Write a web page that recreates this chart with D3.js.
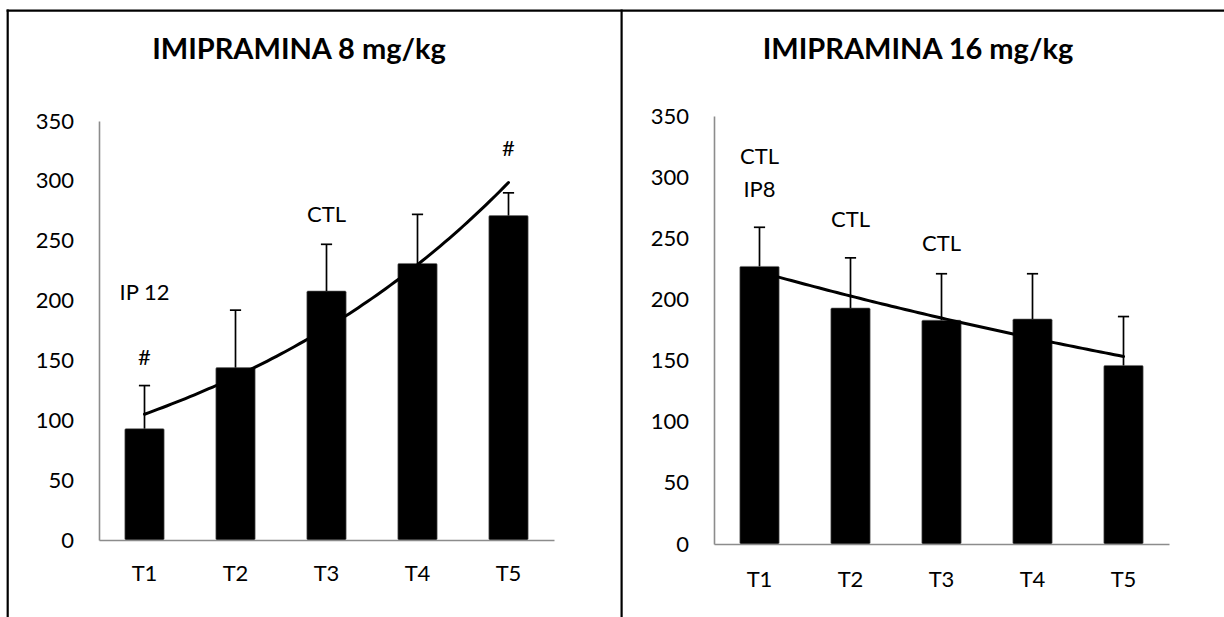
<!DOCTYPE html>
<html>
<head>
<meta charset="utf-8">
<script src="https://cdn.jsdelivr.net/npm/d3@7"></script>
<style>
  body { margin: 0; background: #fff; }
  svg { display: block; }
  text { font-family: Lato, "Open Sans", sans-serif; fill: #000; }
</style>
</head>
<body>
<svg id="chart" width="1224" height="617"></svg>
<script>
// Sessions and axis ticks shared by both panels
const categories = ["T1", "T2", "T3", "T4", "T5"];
const yTicks = [0, 50, 100, 150, 200, 250, 300, 350];

// Imipramine 8 mg/kg: means and upper error (SEM)
const means8 = [93, 144, 208, 231, 271];
const errors8 = [36, 48, 39, 41, 19];
const notes8 = [
  { cat: "T1", text: "IP 12", at: 207 },
  { cat: "T1", text: "#", at: 153 },
  { cat: "T3", text: "CTL", at: 272 },
  { cat: "T5", text: "#", at: 327 }
];

// Imipramine 16 mg/kg: means and upper error (SEM)
const means16 = [227, 193, 183, 184, 146];
const errors16 = [32, 41, 38, 37, 40];
const notes16 = [
  { cat: "T1", text: "CTL", at: 317 },
  { cat: "T1", text: "IP8", at: 290 },
  { cat: "T2", text: "CTL", at: 266 },
  { cat: "T3", text: "CTL", at: 246 }
];

const titles = ["IMIPRAMINA 8 mg/kg", "IMIPRAMINA 16 mg/kg"];

const svg = d3.select("#chart");
svg.append("rect").attr("width", 1224).attr("height", 617).attr("fill", "#fff");

// Table-style frame around the two panels
const frame = svg.append("g").attr("stroke", "#000").attr("stroke-width", 2.2).attr("fill", "none");
frame.append("line").attr("x1", 6.6).attr("x2", 1224).attr("y1", 10.6).attr("y2", 10.6);
frame.append("line").attr("x1", 7.7).attr("x2", 7.7).attr("y1", 9.5).attr("y2", 617);
frame.append("line").attr("x1", 621.6).attr("x2", 621.6).attr("y1", 9.5).attr("y2", 617);

// Least-squares exponential trend y = a*e^(b*x), x = 1..n
function expFit(values) {
  const xs = values.map((_, i) => i + 1);
  const ls = values.map(v => Math.log(v));
  const mx = d3.mean(xs), ml = d3.mean(ls);
  const b = d3.sum(xs, (x, i) => (x - mx) * (ls[i] - ml)) / d3.sum(xs, x => (x - mx) ** 2);
  const a = Math.exp(ml - b * mx);
  return x => a * Math.exp(b * x);
}

const panels = [
  { title: titles[0], means: means8, errors: errors8, notes: notes8,
    x0: 99, x1: 554, yTop: 121, yBottom: 540, titleX: 299, titleY: 59, catPad: 25 },
  { title: titles[1], means: means16, errors: errors16, notes: notes16,
    x0: 714, x1: 1169, yTop: 116, yBottom: 544, titleX: 918, titleY: 59, catPad: 27 }
];

panels.forEach(p => {
  const g = svg.append("g");

  const x = d3.scaleBand().domain(categories).range([p.x0, p.x1])
    .paddingInner(0.568).paddingOuter(0.284);
  const y = d3.scaleLinear().domain([0, 350]).range([p.yBottom, p.yTop]);

  g.append("text")
    .attr("x", p.titleX).attr("y", p.titleY)
    .attr("text-anchor", "middle")
    .style("font-weight", "bold").style("font-size", "29px")
    .text(p.title);

  // Y axis
  const yAxis = g.append("g").attr("transform", `translate(${p.x0},0)`)
    .call(d3.axisLeft(y).tickValues(yTicks).tickSize(0).tickSizeOuter(0).tickPadding(25));
  yAxis.select(".domain").attr("stroke", "#8c8c8c").attr("stroke-width", 1.6);
  yAxis.selectAll("text").style("font-size", "22px").style("font-family", "Lato, sans-serif").attr("fill", "#000");

  const rows = categories.map((c, i) => ({ cat: c, mean: p.means[i], err: p.errors[i] }));

  // Bars
  g.append("g").selectAll("rect").data(rows).join("rect")
    .attr("x", d => x(d.cat))
    .attr("width", x.bandwidth())
    .attr("y", d => y(d.mean))
    .attr("height", d => y(0) - y(d.mean))
    .attr("rx", 1.2)
    .attr("fill", "#000")
    .attr("stroke", "#6e6e6e").attr("stroke-width", 0.6);

  // Upper error bars with caps
  const eb = g.append("g").attr("stroke", "#000").attr("stroke-width", 1.7);
  eb.selectAll("line.v").data(rows).join("line").attr("class", "v")
    .attr("x1", d => x(d.cat) + x.bandwidth() / 2)
    .attr("x2", d => x(d.cat) + x.bandwidth() / 2)
    .attr("y1", d => y(d.mean))
    .attr("y2", d => y(d.mean + d.err));
  eb.selectAll("line.cap").data(rows).join("line").attr("class", "cap")
    .attr("x1", d => x(d.cat) + x.bandwidth() / 2 - 5.6)
    .attr("x2", d => x(d.cat) + x.bandwidth() / 2 + 5.6)
    .attr("y1", d => y(d.mean + d.err))
    .attr("y2", d => y(d.mean + d.err));

  // X axis, drawn over the bar bases
  const xAxis = g.append("g").attr("transform", `translate(0,${p.yBottom})`)
    .call(d3.axisBottom(x).tickSize(0).tickSizeOuter(0).tickPadding(p.catPad));
  xAxis.select(".domain").attr("stroke", "#8c8c8c").attr("stroke-width", 1.6);
  xAxis.selectAll("text").style("font-size", "22px").style("font-family", "Lato, sans-serif").attr("fill", "#000");

  // Exponential trendline between the first and last category
  const trend = expFit(p.means);
  const xi = d3.scaleLinear().domain([1, categories.length])
    .range([x(categories[0]) + x.bandwidth() / 2, x(categories[categories.length - 1]) + x.bandwidth() / 2]);
  const pts = d3.range(1, categories.length + 0.001, 0.05);
  g.append("path")
    .datum(pts)
    .attr("fill", "none").attr("stroke", "#000").attr("stroke-width", 3)
    .attr("stroke-linecap", "round")
    .attr("d", d3.line().x(t => xi(t)).y(t => y(trend(t))));

  // Significance notes above the bars
  g.append("g").selectAll("text").data(p.notes).join("text")
    .attr("x", d => x(d.cat) + x.bandwidth() / 2)
    .attr("y", d => y(d.at))
    .attr("dy", "0.36em")
    .attr("text-anchor", "middle")
    .style("font-size", "22px")
    .text(d => d.text);
});
</script>
</body>
</html>
